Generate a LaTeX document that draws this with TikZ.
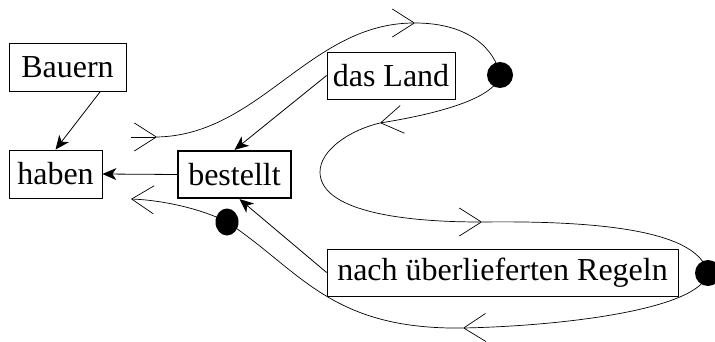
\documentclass[tikz,border=0pt]{standalone}
\usepackage{fontspec}
\setmainfont{Liberation Serif}
\usetikzlibrary{arrows.meta,shapes.geometric}
\begin{document}
\begin{tikzpicture}[x=1pt,y=-1pt,
  box/.style={draw, line width=0.8pt, inner sep=0pt, minimum height=47pt,
    font=\fontsize{32}{38}\selectfont},
  link/.style={line width=0.8pt, -{Stealth[length=14pt,width=12pt,inset=4pt]}},
  flow/.style={line width=0.7pt},
  barb/.style={flow, -{Straight Barb[length=22pt,width=28pt]}},
  blob/.style={ellipse, fill=black, inner sep=0pt, minimum width=#1, minimum height=#1}]
\useasboundingbox (0,0) rectangle (715,342);

% word boxes
\node[box, minimum width=117pt, minimum height=48pt] (bauern) at (67.5,67) {Bauern};
\node[box, minimum width=93pt, minimum height=48pt] (haben) at (55.5,174) {haben};
\node[box, minimum width=113pt, line width=2.2pt] (bestellt) at (234.5,174.5) {bestellt};
\node[box, minimum width=128pt] (land) at (391,75.5) {das Land};
\node[box, minimum width=351pt] (regeln) at (502.5,272.5) {nach überlieferten Regeln};

% dependency arrows
\draw[link] ([xshift=-26pt]bauern.south east) -- (haben.north);
\draw[link] (land.west) -- (bestellt.north);
\draw[link] (bestellt.west) -- (haben.east);
\draw[link] (regeln.west) -- ([xshift=5pt]bestellt.south);

% loop waypoints
\coordinate (p0) at (131,137);
\coordinate (a1) at (157,137);
\coordinate (a2) at (415,23);
\coordinate (a3) at (380,123);
\coordinate (lft) at (320,172);
\coordinate (a4) at (482,222);
\coordinate (a5) at (463,328);
\coordinate (a6) at (131,199);
\node[blob=26pt] (d1) at (500,75) {};
\node[blob=26pt] (d2) at (708,273) {};
\node[blob=23pt, minimum height=27pt] (d3) at (227,222) {};

% the loop, in pieces ending at its open arrowheads
\draw[barb] (p0) -- (a1);
\draw[barb] (a1) .. controls (260,135) and (310,23) .. (a2);
\draw[flow] (a2) .. controls (470,23) and (495,50) .. (d1.center);
\draw[barb] (d1.center) .. controls (495,100) and (430,115) .. (a3);
\draw[flow] (a3) .. controls (350,130) and (320,150) .. (lft);
\draw[barb] (lft) .. controls (320,205) and (380,222) .. (a4);
\draw[flow] (a4) .. controls (640,220) and (700,240) .. (d2.center);
\draw[barb] (d2.center) .. controls (700,310) and (560,326) .. (a5);
\draw[flow] (a5) .. controls (330,330) and (300,270) .. (d3.center);
\draw[barb] (d3.center) .. controls (200,208) and (160,200) .. (a6);
\end{tikzpicture}
\end{document}
